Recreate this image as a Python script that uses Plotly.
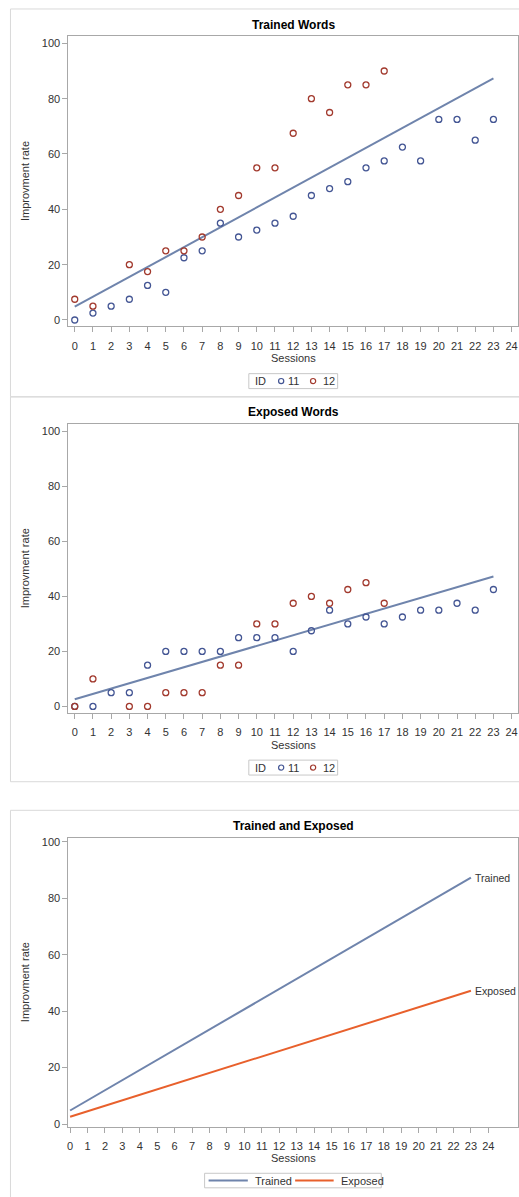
import plotly.graph_objects as go

# ---- data -------------------------------------------------------------
sessions_11 = list(range(24))
trained_11 = [0, 2.5, 5, 7.5, 12.5, 10, 22.5, 25, 35, 30, 32.5, 35,
              37.5, 45, 47.5, 50, 55, 57.5, 62.5, 57.5, 72.5, 72.5, 65, 72.5]
exposed_11 = [0, 0, 5, 5, 15, 20, 20, 20, 20, 25, 25, 25,
              20, 27.5, 35, 30, 32.5, 30, 32.5, 35, 35, 37.5, 35, 42.5]

sessions_12 = [0, 1, 3, 4, 5, 6, 7, 8, 9, 10, 11, 12, 13, 14, 15, 16, 17]
trained_12 = [7.5, 5, 20, 17.5, 25, 25, 30, 40, 45, 55, 55, 67.5, 80, 75, 85, 85, 90]
exposed_12 = [0, 10, 0, 0, 5, 5, 5, 15, 15, 30, 30, 37.5, 40, 37.5, 42.5, 45, 37.5]

# fitted regression lines (session 0 -> session 23)
fit_x = [0, 23]
trained_fit = [4.8, 87.3]
exposed_fit = [2.6, 47.2]

x_ticks = list(range(25))
y_ticks = [0, 20, 40, 60, 80, 100]

id_groups = ["11", "12"]
line_groups = ["Trained", "Exposed"]

# ---- styling ----------------------------------------------------------
W, H = 519, 1197
FONT = "Liberation Sans, Arial, sans-serif"
BLUE = "#445694"
RED = "#A23A2E"
FIT = "#6F84AC"
ORANGE = "#E8602C"
AXIS = "#A8A8A8"
TXT = "#333333"
BORDER = "#D9D9D9"
LEGEND_BORDER = "#C8C8C8"


def px(xp):
    return xp / W


def py(yp):
    return 1 - yp / H


fig = go.Figure()

# panel geometry in pixels: (plot top, plot bottom)
panels = [(34, 325.7), (423.7, 713.7), (839.3, 1129.3)]
x_left, x_right = 67.5, 518.0

axis_common = dict(showline=True, linecolor=AXIS, linewidth=1, mirror=True,
                   ticks="outside", ticklen=5, tickcolor=AXIS,
                   showgrid=False, zeroline=False,
                   tickfont=dict(family=FONT, size=11, color=TXT))

for i, (top, bot) in enumerate(panels, start=1):
    sfx = "" if i == 1 else str(i)
    xr = [-0.35, 24.35] if i < 3 else [-0.1, 25.7]
    yr = [-2.3, 102.7] if i < 3 else [-0.9, 101.4]
    fig.update_layout(**{
        f"xaxis{sfx}": dict(domain=[px(x_left), px(x_right)], range=xr,
                            tickvals=x_ticks, anchor=f"y{sfx}",
                            ticklabelstandoff=4, **axis_common),
        f"yaxis{sfx}": dict(domain=[py(bot), py(top)], range=yr,
                            tickvals=y_ticks, anchor=f"x{sfx}", **axis_common),
    })

marker_11 = dict(symbol="circle-open", size=6, color=BLUE, line=dict(width=1.3, color=BLUE))
marker_12 = dict(symbol="circle-open", size=6, color=RED, line=dict(width=1.3, color=RED))

# Trained words panel
fig.add_trace(go.Scatter(x=fit_x, y=trained_fit, mode="lines", line=dict(color=FIT, width=2),
                         name="Fit", xaxis="x", yaxis="y"))
fig.add_trace(go.Scatter(x=sessions_11, y=trained_11, mode="markers", marker=marker_11,
                         name=id_groups[0], xaxis="x", yaxis="y"))
fig.add_trace(go.Scatter(x=sessions_12, y=trained_12, mode="markers", marker=marker_12,
                         name=id_groups[1], xaxis="x", yaxis="y"))

# Exposed words panel
fig.add_trace(go.Scatter(x=fit_x, y=exposed_fit, mode="lines", line=dict(color=FIT, width=2),
                         name="Fit", xaxis="x2", yaxis="y2"))
fig.add_trace(go.Scatter(x=sessions_11, y=exposed_11, mode="markers", marker=marker_11,
                         name=id_groups[0], xaxis="x2", yaxis="y2"))
fig.add_trace(go.Scatter(x=sessions_12, y=exposed_12, mode="markers", marker=marker_12,
                         name=id_groups[1], xaxis="x2", yaxis="y2"))

# Combined panel
fig.add_trace(go.Scatter(x=fit_x, y=trained_fit, mode="lines", line=dict(color=FIT, width=2),
                         name=line_groups[0], xaxis="x3", yaxis="y3"))
fig.add_trace(go.Scatter(x=fit_x, y=exposed_fit, mode="lines", line=dict(color=ORANGE, width=2),
                         name=line_groups[1], xaxis="x3", yaxis="y3"))

annotations = []
shapes = []


def text(t, x, y, size=11, color=TXT, xanchor="center", **kw):
    annotations.append(dict(text=t, x=px(x), y=py(y), xref="paper", yref="paper",
                            showarrow=False, font=dict(family=FONT, size=size, color=color),
                            xanchor=xanchor, yanchor="middle", **kw))


titles = ["Trained Words", "Exposed Words", "Trained and Exposed"]
title_y = [23, 412, 827]
xlabel_y = [357, 746, 1161]
for i, (top, bot) in enumerate(panels):
    text(f"<b>{titles[i]}</b>", (x_left + x_right) / 2, title_y[i], size=12, color="#000000")
    text("Sessions", (x_left + x_right) / 2, xlabel_y[i])
    text("Improvment rate", 24, (top + bot) / 2, textangle=-90)

# end-of-line labels
for name, yv in zip(line_groups, [trained_fit[-1], exposed_fit[-1]]):
    annotations.append(dict(text=name, x=fit_x[-1], y=yv, xref="x3", yref="y3",
                            showarrow=False, xanchor="left", xshift=2, yanchor="middle",
                            font=dict(family=FONT, size=10.5, color=TXT)))

# panel frames
for top, bot in [(7, 396.5), (396.5, 783), (811.7, 1205)]:
    shapes.append(dict(type="rect", xref="paper", yref="paper",
                       x0=px(9.5), x1=px(525), y0=py(bot), y1=py(top),
                       line=dict(color=BORDER, width=1), fillcolor="rgba(0,0,0,0)", layer="below"))


# compact "ID" legends for the scatter panels
def id_legend(yc):
    shapes.append(dict(type="rect", xref="paper", yref="paper",
                       x0=px(248.3), x1=px(337.3), y0=py(yc + 7.5), y1=py(yc - 7.5),
                       line=dict(color=LEGEND_BORDER, width=1), fillcolor="white"))
    text("ID", 252, yc, xanchor="left")
    for xc, col, lab, xt in [(280.7, BLUE, id_groups[0], 286), (312.7, RED, id_groups[1], 320.5)]:
        shapes.append(dict(type="circle", xref="paper", yref="paper",
                           x0=px(xc - 2.6), x1=px(xc + 2.6), y0=py(yc + 2.6), y1=py(yc - 2.6),
                           line=dict(color=col, width=1.2), fillcolor="rgba(0,0,0,0)"))
        text(lab, xt, yc, xanchor="left")


id_legend(380.7)
id_legend(768.8)

# line legend for the combined panel
yc = 1183.5
shapes.append(dict(type="rect", xref="paper", yref="paper",
                   x0=px(204), x1=px(381), y0=py(yc + 7.3), y1=py(yc - 7.3),
                   line=dict(color=LEGEND_BORDER, width=1), fillcolor="white"))
for (x0, x1, xt), col, lab in zip([(208, 247.3, 252), (294.7, 333.3, 338.5)], [FIT, ORANGE], line_groups):
    shapes.append(dict(type="line", xref="paper", yref="paper",
                       x0=px(x0), x1=px(x1), y0=py(yc), y1=py(yc),
                       line=dict(color=col, width=2)))
    text(lab, xt, yc, xanchor="left")

fig.update_layout(
    width=W, height=H,
    margin=dict(l=0, r=0, t=0, b=0),
    paper_bgcolor="white", plot_bgcolor="white",
    showlegend=False,
    annotations=annotations, shapes=shapes,
)

fig.write_html("out.html")
